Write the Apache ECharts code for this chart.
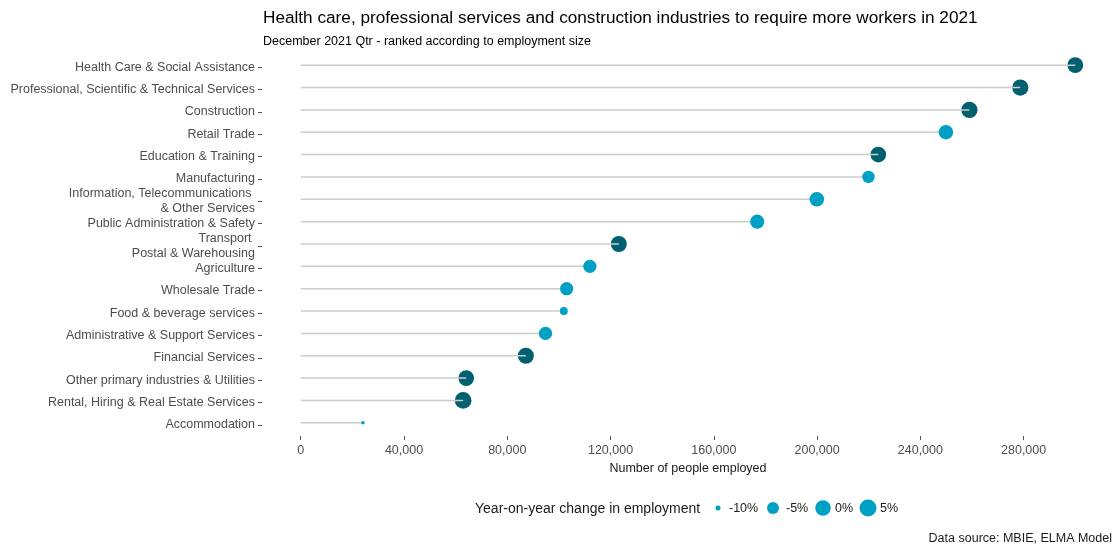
<!DOCTYPE html>
<html>
<head>
<meta charset="utf-8">
<title>Employment by industry</title>
<script src="https://cdn.jsdelivr.net/npm/echarts@6/dist/echarts.min.js"></script>
<style>
  html, body { margin: 0; padding: 0; background: #ffffff; }
  #chart { width: 1115px; height: 547px; }
</style>
</head>
<body>
<div id="chart"></div>
<script>
// Industries ranked by employment size (largest first)
const industries = [
  'Health Care & Social Assistance',
  'Professional, Scientific & Technical Services',
  'Construction',
  'Retail Trade',
  'Education & Training',
  'Manufacturing',
  'Information, Telecommunications \n& Other Services',
  'Public Administration & Safety',
  'Transport \nPostal & Warehousing',
  'Agriculture',
  'Wholesale Trade',
  'Food & beverage services',
  'Administrative & Support Services',
  'Financial Services',
  'Other primary industries & Utilities',
  'Rental, Hiring & Real Estate Services',
  'Accommodation'
];

// Number of people employed, December 2021 quarter
const employed = [
  300000, 278700, 259000, 249900, 223700, 219900, 199900, 176800,
  123200, 112000, 103000, 101900, 94800, 87200, 64100, 62900, 24100
];

// Year-on-year change in employment (%)
const yoyChange = [
  1.0, 2.5, 2.5, -1.4, 0.5, -4.4, -1.4, -1.9,
  1.7, -3.1, -3.1, -7.9, -3.1, 1.7, 0.5, 4.0, -11.0
];

const xTicks = [0, 40000, 80000, 120000, 160000, 200000, 240000, 280000];
const sizeKeys = [-10, -5, 0, 5];

const DARK = '#00606F';
const LIGHT = '#00A0C4';
const FONT = 'Liberation Sans, Arial, sans-serif';

// Dot diameter (px) for a given % change: piecewise scale through the key sizes
const sizeStops = [[-10, 5], [-5, 12], [0, 15.5], [5, 17]];
function dotSize(c) {
  let a = sizeStops[0], b = sizeStops[1];
  for (let i = 0; i < sizeStops.length - 1; i++) {
    a = sizeStops[i]; b = sizeStops[i + 1];
    if (c <= b[0]) break;
  }
  const d = a[1] + (c - a[0]) * (b[1] - a[1]) / (b[0] - a[0]);
  return Math.max(3, d);
}

const risePoints = [];
const fallPoints = [];
industries.forEach((name, i) => {
  const p = [employed[i], name, yoyChange[i]];
  (yoyChange[i] >= 0 ? risePoints : fallPoints).push(p);
});

// Size key drawn below the plot
const keyX = [718, 773, 823, 868];
const keyLabelX = [729, 786, 835, 880];
const keyY = 508;
const keyGraphics = [
  {
    type: 'text', x: 475, y: keyY + 1,
    style: { text: 'Year-on-year change in employment', fill: '#1a1a1a', font: '14px ' + FONT, verticalAlign: 'middle' }
  }
];
sizeKeys.forEach((k, i) => {
  keyGraphics.push({
    type: 'circle',
    shape: { cx: keyX[i], cy: keyY, r: dotSize(k) / 2 },
    style: { fill: LIGHT }
  });
  keyGraphics.push({
    type: 'text', x: keyLabelX[i], y: keyY + 1,
    style: { text: k + '%', fill: '#1a1a1a', font: '12.5px ' + FONT, verticalAlign: 'middle' }
  });
});

const PLOT = { left: 262, width: 852, top: 54, height: 380 };

const chart = echarts.init(document.getElementById('chart'), null, { renderer: 'canvas' });

chart.setOption({
  backgroundColor: '#ffffff',
  animation: false,
  textStyle: { fontFamily: FONT },
  title: [
    {
      text: 'Health care, professional services and construction industries to require more workers in 2021',
      left: 263, top: 10, padding: 0,
      textStyle: { fontSize: 17.2, fontWeight: 'normal', color: '#000000', fontFamily: FONT }
    },
    {
      text: 'December 2021 Qtr - ranked according to employment size',
      left: 263, top: 35, padding: 0,
      textStyle: { fontSize: 12.5, fontWeight: 'normal', color: '#000000', fontFamily: FONT }
    },
    {
      text: 'Data source: MBIE, ELMA Model',
      right: 3, top: 532, padding: 0,
      textStyle: { fontSize: 12.5, fontWeight: 'normal', color: '#1a1a1a', fontFamily: FONT }
    }
  ],
  grid: [
    // plotting panel
    { left: PLOT.left, width: PLOT.width, top: PLOT.top, height: PLOT.height },
    // industry names and their ticks, set a touch lower to sit on the text baseline
    { left: PLOT.left, width: PLOT.width, top: PLOT.top + 2, height: PLOT.height }
  ],
  xAxis: [
    {
      type: 'value',
      gridIndex: 0,
      min: -15000,
      max: 315000,
      offset: 2,
      axisLine: { show: false },
      splitLine: { show: false },
      axisTick: {
        show: true, length: 4, customValues: xTicks,
        lineStyle: { color: '#555555', width: 1 }
      },
      axisLabel: {
        customValues: xTicks,
        margin: 8,
        color: '#4D4D4D',
        fontSize: 12.5,
        fontFamily: FONT,
        formatter: v => v.toLocaleString('en-US')
      },
      name: 'Number of people employed',
      nameLocation: 'middle',
      nameGap: 26,
      nameTextStyle: { color: '#1a1a1a', fontSize: 12.5, fontFamily: FONT }
    },
    {
      type: 'value',
      gridIndex: 1,
      min: -15000,
      max: 315000,
      show: false
    }
  ],
  yAxis: [
    {
      type: 'category',
      gridIndex: 0,
      data: industries,
      inverse: true,
      axisLine: { show: false, onZero: false },
      splitLine: { show: false },
      axisTick: { show: false },
      axisLabel: { show: false }
    },
    {
      type: 'category',
      gridIndex: 1,
      data: industries,
      inverse: true,
      axisLine: { show: false, onZero: false },
      splitLine: { show: false },
      axisTick: {
        show: true, length: 4, alignWithLabel: true,
        lineStyle: { color: '#555555', width: 1 }
      },
      axisLabel: {
        margin: 7,
        color: '#4D4D4D',
        fontSize: 12.5,
        lineHeight: 15,
        fontFamily: FONT
      }
    }
  ],
  series: [
    {
      name: 'rise',
      type: 'scatter',
      xAxisIndex: 0, yAxisIndex: 0,
      z: 2,
      data: risePoints,
      symbol: 'circle',
      symbolSize: v => dotSize(v[2]),
      itemStyle: { color: DARK, opacity: 1 },
      emphasis: { disabled: true }
    },
    {
      name: 'stem',
      type: 'bar',
      xAxisIndex: 0, yAxisIndex: 0,
      z: 3,
      data: employed,
      barWidth: 1.5,
      itemStyle: { color: '#CCCCCC' },
      emphasis: { disabled: true }
    },
    {
      name: 'fall',
      type: 'scatter',
      xAxisIndex: 0, yAxisIndex: 0,
      z: 4,
      data: fallPoints,
      symbol: 'circle',
      symbolSize: v => dotSize(v[2]),
      itemStyle: { color: LIGHT, opacity: 1 },
      emphasis: { disabled: true }
    }
  ],
  graphic: keyGraphics
});
</script>
</body>
</html>
